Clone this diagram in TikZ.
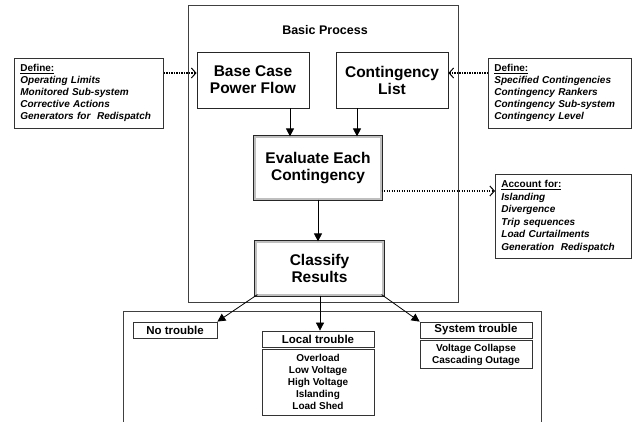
\documentclass[tikz,border=0pt]{standalone}
\usepackage{fontspec}
\setmainfont{Liberation Sans}
\usetikzlibrary{arrows.meta}
\newcommand{\hdrline}[1]{\textup{\underline{#1}}}
\begin{document}
\begin{tikzpicture}[x=1pt,y=-1pt,
  frame/.style={draw=black!75, line width=1pt},
  mainbox/.style={draw=black!85, line width=0.9pt, inner sep=0pt, align=center,
    font=\fontsize{15.5}{17}\selectfont\bfseries},
  dblbox/.style={draw=black!85, line width=0.8pt, double=black!25, double distance=1.6pt,
    inner sep=0pt, align=center, font=\fontsize{15.5}{17}\selectfont\bfseries},
  infobox/.style={draw=black!80, line width=0.8pt, anchor=north west, inner xsep=6pt, inner ysep=0pt,
    align=left, font=\fontsize{10}{12}\selectfont\bfseries\itshape},
  headbox/.style={draw=black!80, line width=0.8pt, inner sep=0pt, align=center,
    font=\fontsize{11.5}{13}\selectfont\bfseries},
  listbox/.style={draw=black!80, line width=0.8pt, inner sep=0pt, align=center,
    font=\fontsize{10}{12}\selectfont\bfseries},
  arr/.style={draw=black, line width=0.8pt, -{Triangle[length=8pt,width=8pt]}},
  dotarr/.style={draw=black, line width=1.3pt, dash pattern=on 1.3pt off 1.2pt,
    -{Straight Barb[length=4.5pt,width=10pt,line width=1pt]}}
]
\useasboundingbox (0,0) rectangle (633,422);

% Basic Process frame
\node[frame, minimum width=270pt, minimum height=297pt, inner sep=0pt] (basic) at (323,154.5) {};
\node[font=\fontsize{12.5}{15}\selectfont\bfseries] (basiclbl) at (325,30) {Basic Process};

% main boxes
\node[mainbox, minimum width=112pt, minimum height=56pt] (base) at (253,80) {Base Case\\Power Flow};
\node[mainbox, minimum width=112pt, minimum height=56pt] (clist) at (392,80) {Contingency\\List};
\node[dblbox, minimum width=126.4pt, minimum height=62.4pt] (eval) at (318,168) {Evaluate Each\\Contingency};
\node[dblbox, minimum width=127.4pt, minimum height=53.4pt] (class) at (319.5,268.5) {Classify\\Results};

% info boxes
\node[infobox, text width=137pt, minimum height=70pt] (defl) at (14,58)
  {\hdrline{Define:}\\Operating Limits\\Monitored Sub-system\\Corrective Actions\\Generators for~ Redispatch};
\node[infobox, text width=131pt, minimum height=70pt] (defr) at (488,58)
  {\hdrline{Define:}\\Specified Contingencies\\Contingency Rankers\\Contingency Sub-system\\Contingency Level};
\node[infobox, text width=124pt, minimum height=84pt, font=\fontsize{10}{12.6}\selectfont\bfseries\itshape] (acc) at (495,174)
  {\hdrline{Account for:}\\Islanding\\Divergence\\Trip sequences\\Load Curtailments\\Generation~ Redispatch};

% bottom frame
\coordinate (bl) at (123,422);
\coordinate (br) at (541,422);
\draw[frame] (bl) |- (br |- 0,312) -- (br);

% trouble boxes
\node[headbox, minimum width=84pt, minimum height=16pt] (notr) at (175,330) {No trouble};
\node[headbox, minimum width=112pt, minimum height=16pt] (loctr) at (318,339) {Local trouble};
\node[listbox, minimum width=112pt, minimum height=66pt] (locl) at (318,382)
  {Overload\\Low Voltage\\High Voltage\\Islanding\\Load Shed};
\node[headbox, minimum width=112pt, minimum height=16pt] (systr) at (476,330) {System trouble};
\node[listbox, minimum width=112pt, minimum height=28pt] (sysl) at (476,354.5)
  {Voltage Collapse\\Cascading Outage};

% solid arrows
\draw[arr] (base.south -| 290,0) -- (eval.north -| 290,0);
\draw[arr] (clist.south -| 357,0) -- (eval.north -| 357,0);
\draw[arr] (eval.south -| 318,0) -- (class.north -| 318,0);
\draw[arr] (class.south west) ++(2,-1) -- (notr.north east);
\draw[arr] (class.south -| 320,0) -- (loctr.north -| 320,0);
\draw[arr] (class.south east) ++(-2,-1) -- (systr.north west);

% dotted arrows
\draw[dotarr] (defl.east |- 0,73) -- (base.west |- 0,73);
\draw[dotarr] (defr.west |- 0,73) -- (clist.east |- 0,73);
\draw[dotarr] (eval.east |- 0,191) -- (acc.west |- 0,191);
\end{tikzpicture}
\end{document}
